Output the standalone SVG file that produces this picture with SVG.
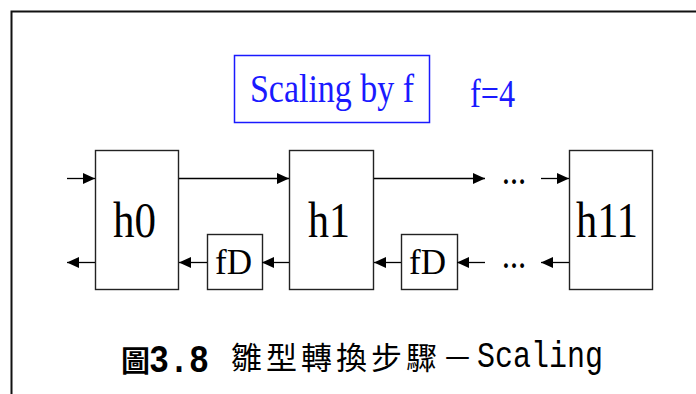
<svg xmlns="http://www.w3.org/2000/svg" width="696" height="394" viewBox="0 0 696 394">
  <style>
    .box { fill: #fff; stroke: #222; stroke-width: 1.4; }
    .wire { fill: none; stroke: #000; stroke-width: 1.3; }
    .lbl { font-family: "Liberation Serif", "Times New Roman", serif; fill: #000; }
    .blue { font-family: "Liberation Serif", "Times New Roman", serif; fill: #1a1aff; }
    .dots { font-family: "Liberation Serif", serif; font-size: 30px; font-weight: bold; fill: #000; }
    .cjk { font-family: "Noto Sans CJK TC", "Noto Sans CJK SC", sans-serif; fill: #000; }
    .mono { font-family: "Liberation Mono", "Courier New", monospace; fill: #000; }
  </style>
  <defs>
    <marker id="arrow" markerUnits="userSpaceOnUse" markerWidth="12" markerHeight="11" refX="12" refY="5.5" orient="auto">
      <path d="M0,0 L12,5.5 L0,11 z" fill="#000"/>
    </marker>
  </defs>

  <rect width="696" height="394" fill="#fff"/>
  <!-- outer frame, open to the right and bottom -->
  <rect x="11.5" y="11.5" width="720" height="420" fill="none" stroke="#111" stroke-width="2"/>

  <!-- title box -->
  <g id="title">
    <rect x="234.5" y="55.5" width="195" height="67" fill="none" stroke="#1a1aff" stroke-width="1.5"/>
    <text class="blue" x="250" y="102" font-size="40" textLength="164" lengthAdjust="spacingAndGlyphs">Scaling by f</text>
  </g>
  <g id="factor">
    <text class="blue" x="470" y="107" font-size="40" textLength="45" lengthAdjust="spacingAndGlyphs">f=4</text>
  </g>

  <!-- filter stages -->
  <g id="h0">
    <rect class="box" x="95.5" y="150.5" width="83" height="139"/>
    <text class="lbl" x="113" y="237" font-size="50" textLength="43" lengthAdjust="spacingAndGlyphs">h0</text>
  </g>
  <g id="h1">
    <rect class="box" x="289.5" y="150.5" width="84" height="139"/>
    <text class="lbl" x="308" y="237" font-size="50" textLength="42" lengthAdjust="spacingAndGlyphs">h1</text>
  </g>
  <g id="h11">
    <rect class="box" x="569.5" y="150.5" width="83" height="139"/>
    <text class="lbl" x="576" y="237" font-size="50" textLength="62" lengthAdjust="spacingAndGlyphs">h11</text>
  </g>

  <!-- delay blocks -->
  <g id="fD1">
    <rect class="box" x="207.5" y="234.5" width="55" height="55"/>
    <text class="lbl" x="215" y="274" font-size="35" textLength="37" lengthAdjust="spacingAndGlyphs">fD</text>
  </g>
  <g id="fD2">
    <rect class="box" x="401.5" y="234.5" width="56" height="55"/>
    <text class="lbl" x="409" y="274" font-size="35" textLength="37" lengthAdjust="spacingAndGlyphs">fD</text>
  </g>

  <!-- connectors -->
  <g id="connectors">
    <line class="wire" x1="67" y1="178.5" x2="95" y2="178.5" marker-end="url(#arrow)"/>
    <line class="wire" x1="179" y1="178.5" x2="289" y2="178.5" marker-end="url(#arrow)"/>
    <line class="wire" x1="374" y1="178.5" x2="485" y2="178.5" marker-end="url(#arrow)"/>
    <line class="wire" x1="541" y1="178.5" x2="569" y2="178.5" marker-end="url(#arrow)"/>

    <line class="wire" x1="95" y1="262.5" x2="67" y2="262.5" marker-end="url(#arrow)"/>
    <line class="wire" x1="207" y1="262.5" x2="179" y2="262.5" marker-end="url(#arrow)"/>
    <line class="wire" x1="289" y1="262.5" x2="262" y2="262.5" marker-end="url(#arrow)"/>
    <line class="wire" x1="401" y1="262.5" x2="374" y2="262.5" marker-end="url(#arrow)"/>
    <line class="wire" x1="485" y1="262.5" x2="457" y2="262.5" marker-end="url(#arrow)"/>
    <line class="wire" x1="569" y1="262.5" x2="541" y2="262.5" marker-end="url(#arrow)"/>

    <text class="dots" x="502" y="184" textLength="24" lengthAdjust="spacingAndGlyphs">…</text>
    <text class="dots" x="502" y="268" textLength="24" lengthAdjust="spacingAndGlyphs">…</text>
  </g>

  <!-- caption -->
  <g id="caption">
    <text class="cjk" x="121" y="372" font-size="29" font-weight="bold">圖</text>
    <text class="mono" x="149" y="372" font-size="38" font-weight="bold" textLength="60" lengthAdjust="spacingAndGlyphs">3.8</text>
    <text class="cjk" y="369" font-size="31" x="231 266 301 336 371 406 442">雛型轉換步驟－</text>
    <text class="mono" x="477" y="367" font-size="36" textLength="126" lengthAdjust="spacingAndGlyphs">Scaling</text>
  </g>
</svg>
